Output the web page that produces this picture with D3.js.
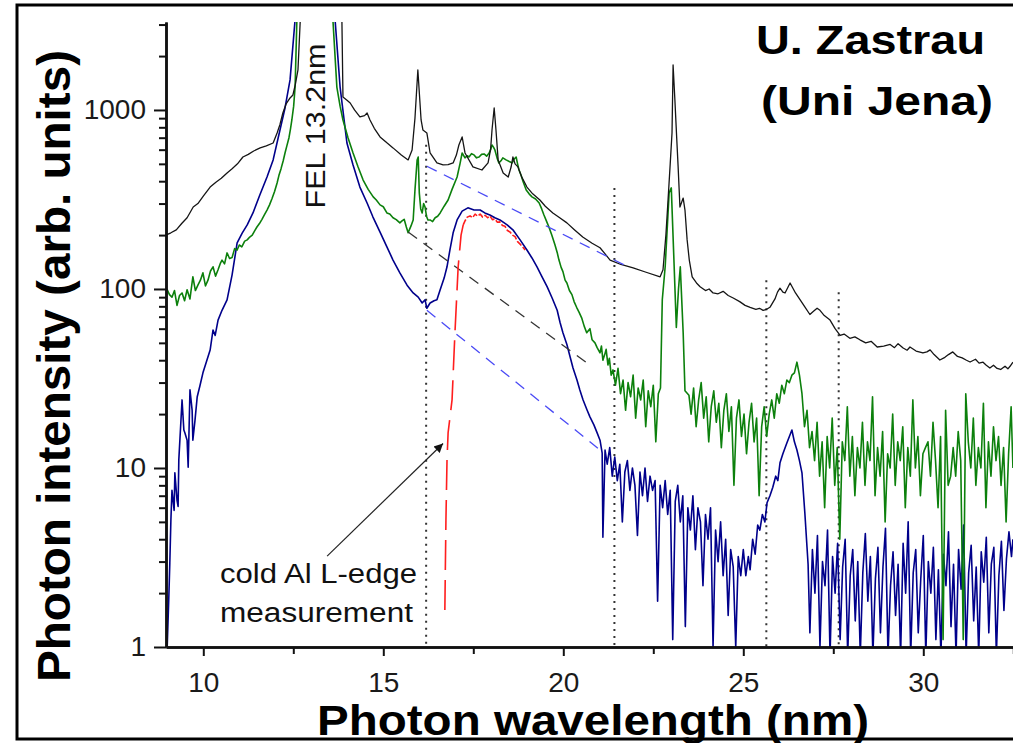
<!DOCTYPE html>
<html>
<head>
<meta charset="utf-8">
<script src="https://cdn.jsdelivr.net/npm/d3@7"></script>
<style>
  body { margin: 0; background: #fff; }
  text { font-family: "Liberation Sans", Arial, sans-serif; }
</style>
</head>
<body>
<div id="chart"></div>
<script>
// spectra: [wavelength nm, intensity arb. units]
const blackSpectrum = [
  [8.96,200],[9.1,206],[9.25,214],[9.4,232],[9.55,250],[9.72,287],[9.85,300],[10.0,330],[10.19,371],[10.35,395],
  [10.5,415],[10.66,445],[10.8,470],[10.95,500],[11.1,546],[11.25,565],[11.4,590],[11.58,614],[11.75,630],[11.94,654],
  [12.05,744],[12.13,830],[12.21,962],[12.3,1080],[12.41,1167],[12.49,1213],[12.56,1400],[12.63,1673],[12.69,3062],
  [12.8,8000],[13.2,80000],[13.6,8000],[13.85,3200],[13.88,1182],[14.0,1130],[14.08,1094],[14.2,1000],[14.35,914],
  [14.48,930],[14.55,962],[14.63,879],[14.75,790],[14.91,707],[15.1,655],[15.27,614],[15.5,560],[15.69,526],[15.8,598],
  [15.88,900],[15.96,1673],[16.05,879],[16.10,773],[16.21,744],[16.30,575],[16.49,506],[16.66,493],[16.8,495],[16.94,506],
  [17.03,560],[17.10,637],[17.19,707],[17.27,575],[17.49,481],[17.74,462],[17.91,506],[17.98,600],[18.02,773],[18.08,1026],
  [18.13,773],[18.19,526],[18.33,445],[18.47,422],[18.55,480],[18.60,546],[18.66,500],[18.74,481],[18.85,420],[18.99,371],
  [19.15,340],[19.35,314],[19.5,290],[19.71,266],[19.9,250],[20.10,234],[20.3,215],[20.54,195],[20.8,180],[21.02,170],
  [21.15,158],[21.30,145],[21.6,137],[21.94,131],[22.3,124],[22.69,117],[22.77,128],[22.85,200],[22.91,314],[22.97,500],
  [23.02,744],[23.05,1784],[23.10,1137],[23.15,700],[23.19,481],[23.24,287],[23.33,322],[23.38,276],[23.44,188],[23.5,145],
  [23.58,117],[23.7,108],[23.80,103],[23.95,98],[24.05,100],[24.16,95],[24.3,94],[24.44,97],[24.58,92],[24.72,89],
  [24.9,85],[25.05,81],[25.19,79],[25.35,77],[25.45,78],[25.55,76],[25.65,77],[25.74,79],[25.88,88],[25.95,96],
  [26.02,101],[26.1,96],[26.16,95],[26.30,108],[26.45,95],[26.58,87],[26.7,80],[26.85,72],[26.95,75],[27.05,78],
  [27.13,76],[27.25,71],[27.41,67],[27.55,60],[27.69,55],[27.8,56],[27.96,53],[28.1,54],[28.24,52],[28.4,50],
  [28.55,51],[28.72,47.4],[28.9,48],[29.08,49],[29.2,47],[29.3,49.5],[29.44,46.8],[29.55,45.5],[29.63,47.4],[29.8,45],
  [29.99,43.9],[30.1,44.5],[30.19,45.7],[30.3,43],[30.46,40.1],[30.6,41.5],[30.7,43],[30.82,44.5],[30.95,42],[31.08,41.2],
  [31.2,40],[31.30,39.1],[31.45,40.5],[31.55,38.5],[31.66,39],[31.75,37.5],[31.85,36.2],[31.95,37.5],[32.05,36],[32.15,35.5],
  [32.27,37],[32.35,35.8],[32.41,37],[32.49,39]
];

const greenSpectrum = [
  [8.99,100],[9.06,93],[9.13,90],[9.2,98],[9.27,81],[9.34,92],[9.41,95],[9.48,86],[9.55,99],[9.63,88],
  [9.71,117],[9.78,98],[9.85,105],[9.92,112],[9.99,123],[10.06,104],[10.13,112],[10.2,126],[10.27,133],[10.34,118],
  [10.41,128],[10.48,140],[10.52,145],[10.59,138],[10.66,159],[10.73,148],[10.80,150],[10.87,168],[10.94,165],[11.0,176],
  [11.07,172],[11.15,185],[11.22,188],[11.29,195],[11.36,200],[11.43,212],[11.49,222],[11.56,232],[11.63,245],[11.70,260],
  [11.77,276],[11.84,295],[11.91,320],[11.98,350],[12.05,391],[12.1,430],[12.16,470],[12.22,520],[12.27,575],[12.33,640],
  [12.38,700],[12.42,780],[12.46,879],[12.51,1050],[12.55,1343],[12.60,3200],[12.8,8000],[13.2,80000],[13.5,8000],[13.60,3200],
  [13.71,1343],[13.80,1050],[13.88,879],[14.02,700],[14.16,575],[14.30,480],[14.44,406],[14.58,360],[14.72,327],[14.80,315],
  [14.91,295],[15.0,288],[15.10,266],[15.18,262],[15.27,250],[15.36,244],[15.46,234],[15.52,240],[15.58,245],[15.64,222],
  [15.69,206],[15.77,225],[15.83,243],[15.88,357],[15.94,526],[15.97,546],[16.00,344],[16.04,280],[16.08,266],[16.12,300],
  [16.16,287],[16.20,255],[16.24,243],[16.30,243],[16.37,238],[16.44,250],[16.51,255],[16.58,266],[16.69,290],[16.80,314],
  [16.91,360],[17.05,422],[17.13,500],[17.19,575],[17.27,540],[17.33,555],[17.38,546],[17.45,570],[17.52,561],[17.59,540],
  [17.66,546],[17.73,565],[17.80,568],[17.87,552],[17.94,575],[17.98,600],[18.02,637],[18.06,620],[18.10,598],[18.16,540],
  [18.21,506],[18.27,520],[18.32,540],[18.41,526],[18.50,515],[18.58,506],[18.63,530],[18.69,546],[18.73,500],[18.77,462],
  [18.83,430],[18.88,400],[18.97,357],[19.05,340],[19.13,327],[19.23,318],[19.33,302],[19.40,280],[19.46,260],[19.53,240],
  [19.60,222],[19.68,200],[19.77,176],[19.83,160],[19.88,145],[19.94,132],[19.99,125],[20.05,112],[20.10,108],[20.17,98],
  [20.24,93],[20.30,85],[20.37,79],[20.44,74],[20.51,69],[20.58,62],[20.65,57],[20.74,60],[20.80,52],[20.88,50],
  [20.94,47],[21.02,44],[21.06,48],[21.10,40],[21.15,43],[21.19,46],[21.24,37.6],[21.28,41],[21.33,33],[21.38,35.3],
  [21.45,29],[21.52,36],[21.59,26],[21.66,31],[21.73,21],[21.80,30],[21.87,25],[21.94,33],[22.01,19],[22.08,28],
  [22.15,24],[22.22,31],[22.29,17],[22.36,27],[22.43,22],[22.50,29],[22.57,14],[22.64,26],[22.70,28],
  [22.75,87],[22.83,133],[22.94,344],[23.00,367],[23.08,133],[23.14,61],[23.20,100],[23.25,133],[23.33,57],[23.38,27],[23.49,25.5],
  [23.55,20],[23.62,28],[23.69,17],[23.76,24],[23.83,30],[23.90,19],[23.97,25],[24.04,14],[24.11,22],[24.18,27],
  [24.25,18],[24.32,23],[24.39,13],[24.46,21],[24.53,26],[24.60,16],[24.67,22],[24.74,8],[24.81,19],[24.88,24],
  [24.95,15],[25.02,20],[25.09,12],[25.16,18],[25.23,23],[25.30,14],[25.37,19],[25.44,7],[25.51,17],[25.58,22],
  [25.65,15],[25.72,20],[25.79,24],[25.86,19],[25.93,26],[26.00,23],[26.07,29],[26.14,26],[26.21,31],[26.28,30],
  [26.35,33],[26.42,34],[26.49,39],[26.56,33],[26.63,26],[26.70,17],[26.77,21],[26.84,13],[26.91,16],
  [26.98,11],[27.05,18],[27.12,9],[27.19,14],[27.26,6],[27.33,15],[27.40,10],[27.47,19],[27.54,8],[27.61,13],
  [27.68,4],[27.75,14],[27.82,11],[27.89,22],[27.96,9],[28.03,15],[28.10,7],[28.17,13],[28.24,10],[28.31,18],
  [28.38,8],[28.45,14],[28.52,11],[28.59,25],[28.66,7],[28.73,13],[28.80,9],[28.87,16],[28.94,5],[29.01,12],
  [29.08,10],[29.15,20],[29.22,8],[29.29,14],[29.36,11],[29.43,17],[29.50,6],[29.57,13],[29.64,9],[29.71,24],
  [29.78,10],[29.85,15],[29.92,7],[29.99,12],[30.06,13],[30.13,14],[30.20,9],[30.27,18],[30.34,11],[30.41,6],
  [30.48,15],[30.55,1.1],[30.62,21],[30.69,8],[30.76,9],[30.83,13],[30.90,9],[30.97,16],[31.04,11],[31.11,1.1],
  [31.18,26],[31.25,14],[31.32,10],[31.39,19],[31.46,8],[31.53,13],[31.60,10],[31.67,23],[31.74,6],[31.81,14],
  [31.88,9],[31.95,17],[32.02,11],[32.09,15],[32.16,8],[32.23,13],[32.30,5],[32.37,12],[32.44,22],[32.49,10]
];

const blueSpectrum = [
  [8.99,0.9],[9.04,1.83],[9.07,2.95],[9.10,5.12],[9.13,7.5],[9.19,5.8],[9.21,9.4],[9.27,6.6],[9.30,6.1],[9.32,11.1],
  [9.41,24],[9.46,16.3],[9.49,15.7],[9.55,14.3],[9.58,10.1],[9.63,27.3],[9.69,21],[9.71,14.3],[9.77,18.5],[9.83,24.9],
  [9.91,29],[9.99,34],[10.10,40],[10.19,45.6],[10.27,59],[10.33,55],[10.41,67],[10.52,76],[10.66,87],[10.80,120],
  [10.94,181],[11.08,205],[11.22,228],[11.38,266],[11.57,335],[11.77,422],[11.94,526],[12.13,773],[12.27,1026],[12.41,1472],
  [12.55,3200],[12.8,8000],[13.2,80000],[13.6,8000],[13.66,3200],[13.80,1343],[13.99,654],[14.16,493],[14.35,371],[14.55,302],
  [14.71,253],[14.91,208],[15.10,172],[15.27,145],[15.46,123],[15.66,105],[15.83,95],[15.97,90],[16.08,83.5],[16.16,87],
  [16.21,78],[16.30,83.5],[16.41,86],[16.49,87],[16.58,99],[16.69,115],[16.77,133],[16.85,165],[16.94,206],[17.05,243],
  [17.19,272],[17.35,284],[17.52,276],[17.69,276],[17.82,266],[17.96,259],[18.10,250],[18.24,243],[18.44,228],[18.60,214],
  [18.80,188],[18.99,165],[19.13,149],[19.27,133],[19.41,117],[19.55,103],[19.69,89],[19.83,76],[19.91,65],[19.99,57],
  [20.10,49],[20.19,41.7],[20.27,36.2],[20.38,31],[20.46,27.3],[20.55,24],[20.66,21.1],[20.74,19.3],[20.85,17.4],[20.94,15.7],
  [21.02,14.3],[21.08,12.1],[21.10,4.1],[21.16,12.6],
  [21.22,10.5],[21.29,13],[21.36,9],[21.43,11.5],[21.50,8.5],[21.57,10.5],[21.64,5],[21.71,9.5],[21.78,11],[21.85,7.5],
  [21.92,10],[21.99,8],[22.06,4.2],[22.13,9.5],[22.20,7],[22.27,10],[22.34,6.5],[22.41,9],[22.48,7.5],[22.55,8.5],
  [22.62,1.8],[22.69,8],[22.76,6],[22.83,8.5],[22.90,5.5],[22.97,7.5],[23.04,1.1],[23.11,6.5],[23.18,8],[23.25,5],
  [23.32,7],[23.39,1.3],[23.46,6],[23.53,4.5],[23.60,7],[23.67,3.5],[23.74,6],[23.81,5],[23.88,2.2],[23.95,5.5],
  [24.02,4],[24.09,6],[24.16,1],[24.23,4.5],[24.30,3],[24.37,5],[24.44,2.5],[24.51,4],[24.58,1.5],[24.65,3.5],
  [24.72,2.8],[24.79,1],[24.86,3.2],[24.93,2.5],[25.00,3.5],[25.07,2.5],[25.14,3.2],[25.19,2.7],[25.26,4],[25.33,3.3],
  [25.40,4.8],[25.46,4.5],[25.53,5.5],[25.60,5],[25.66,6.4],[25.74,7],[25.82,7.8],[25.90,9],[25.96,8.5],[26.02,10.7],
  [26.10,12],[26.21,13.8],[26.28,15],[26.35,16.3],[26.42,14],[26.49,12.6],[26.56,11],[26.63,9.4],[26.71,5.6],[26.80,2.9],
  [26.85,1.2],[26.92,3.5],[26.99,2],[27.06,4.2],[27.13,1],[27.20,3],[27.27,2.2],[27.34,4.5],[27.41,0.9],[27.48,3.2],
  [27.55,2],[27.62,3.8],[27.69,1.1],[27.76,2.8],[27.83,4],[27.90,0.9],[27.97,2.5],[28.04,3.5],[28.11,1.4],[28.18,3],
  [28.25,0.9],[28.32,2.6],[28.39,4.3],[28.46,1.8],[28.53,3.2],[28.60,0.9],[28.67,2.4],[28.74,3.6],[28.81,1.2],[28.88,2.8],
  [28.95,4.6],[29.02,0.9],[29.09,2.2],[29.16,3.4],[29.23,1.5],[29.30,2.9],[29.37,0.9],[29.44,3.8],[29.51,2],[29.58,5],
  [29.65,0.9],[29.72,2.6],[29.79,3.5],[29.86,1.2],[29.93,2.4],[30.00,4.2],[30.07,0.9],[30.14,3],[30.21,2],[30.28,3.6],
  [30.35,1.1],[30.42,2.7],[30.49,0.9],[30.56,3.3],[30.63,2.2],[30.70,4.4],[30.77,1.3],[30.84,2.9],[30.91,0.9],[30.98,3.5],
  [31.05,2.1],[31.12,4.8],[31.19,0.9],[31.26,2.6],[31.33,3.7],[31.40,1.4],[31.47,2.8],[31.54,0.9],[31.61,3.4],[31.68,2.3],
  [31.75,4.1],[31.82,1.2],[31.89,2.9],[31.96,3.6],[32.03,0.9],[32.10,2.5],[32.17,3.9],[32.24,1.6],[32.31,3.1],[32.38,4.4],
  [32.45,3.2],[32.49,4]
];

// cold Al L-edge measurement (red)
const redRise = [[16.71,1.61],[16.74,5.1],[16.77,11.1],[16.80,15.7],[16.91,24],[16.99,56.8],[17.08,133],[17.16,200],[17.22,228]];
const redTop = [
  [17.22,228],[17.27,240],[17.33,252],[17.41,256],[17.48,250],[17.55,262],[17.62,255],[17.69,262],[17.76,252],[17.83,258],
  [17.90,250],[17.96,256],[18.03,244],[18.10,246],[18.17,236],[18.24,237],[18.31,226],[18.38,224],[18.45,212],[18.52,208],
  [18.59,200],[18.66,196],[18.73,184],[18.80,178],[18.87,172],[18.94,165]
];

// dashed background guides
const upperBlueGuide = [[16.21,485],[21.86,131]];
const blackGuide = [[15.69,208],[20.74,37.6]];
const lowerBlueGuide = [[16.21,76],[20.96,12.9]];

// dotted vertical markers
const markerX = [16.19, 21.42, 25.64, 27.65];
const markerTop = [640, 367, 112, 96];

const annotationArrow = [[13.44,3.22],[16.66,13.7]];

const xMajorTicks = [10, 15, 20, 25, 30];
const xMinorTicks = [12.5, 17.5, 22.5, 27.5, 32.5];
const yMajorTicks = [1, 10, 100, 1000];
const yMinorTicks = [2,3,4,5,6,7,8,9,20,30,40,50,60,70,80,90,200,300,400,500,600,700,800,900,2000,3000];

const width = 1013,
    height = 743,
    plotLeft = 166,
    plotRight = 1013,
    plotTop = 22,
    plotBottom = 647;

const svg = d3.select('#chart').append('svg')
    .attr('width', width)
    .attr('height', height)
    .style('display', 'block');

svg.append('rect').attr('width', width).attr('height', height).attr('fill', '#fff');

const x = d3.scaleLinear().domain([8.964, 32.492]).range([plotLeft, plotRight]);
const y = d3.scaleLog().domain([1, 3100]).range([plotBottom, plotTop]);

svg.append('defs').append('clipPath')
    .attr('id', 'plot-clip')
    .append('rect')
    .attr('x', plotLeft)
    .attr('y', plotTop)
    .attr('width', plotRight - plotLeft)
    .attr('height', plotBottom - plotTop);

svg.select('defs').append('marker')
    .attr('id', 'arrow-head')
    .attr('viewBox', '0 0 10 10')
    .attr('refX', 10)
    .attr('refY', 5)
    .attr('markerWidth', 11)
    .attr('markerHeight', 9)
    .attr('markerUnits', 'userSpaceOnUse')
    .attr('orient', 'auto')
    .append('path')
    .attr('d', 'M0,0 L10,5 L0,10 Z')
    .attr('fill', '#111');

const plot = svg.append('g').attr('clip-path', 'url(#plot-clip)');

const line = d3.line()
    .x(d => x(d[0]))
    .y(d => y(Math.max(d[1], 0.5)));

function drawLine(data, color, w, dash) {
    const p = plot.append('path')
        .datum(data)
        .attr('d', line)
        .attr('fill', 'none')
        .attr('stroke', color)
        .attr('stroke-width', w)
        .attr('stroke-linejoin', 'round');
    if (dash) p.attr('stroke-dasharray', dash);
    return p;
}

// dotted markers
markerX.forEach((mx, i) => {
    plot.append('line')
        .attr('x1', x(mx)).attr('x2', x(mx))
        .attr('y1', y(markerTop[i])).attr('y2', y(1))
        .attr('stroke', '#333')
        .attr('stroke-width', 2)
        .attr('stroke-dasharray', '2,5');
});

drawLine(blueSpectrum, '#00008b', 1.6);
drawLine(greenSpectrum, '#0c800c', 1.6);
drawLine(blackSpectrum, '#151515', 1.3);

drawLine(upperBlueGuide, '#4a4af5', 1.3, '11,8');
drawLine(blackGuide, '#333', 1.3, '11,8');
drawLine(lowerBlueGuide, '#4a4af5', 1.3, '11,8');

drawLine(redRise, '#ff1e1e', 1.6, '30,10');
drawLine(redTop, '#ff1e1e', 1.6, '6,2');

// arrow to the edge
svg.append('line')
    .attr('x1', x(annotationArrow[0][0])).attr('y1', y(annotationArrow[0][1]))
    .attr('x2', x(annotationArrow[1][0])).attr('y2', y(annotationArrow[1][1]))
    .attr('stroke', '#222')
    .attr('stroke-width', 1.2)
    .attr('marker-end', 'url(#arrow-head)');

// axes
function styleAxis(g) {
    g.select('.domain').attr('stroke', '#111').attr('stroke-width', 2.5);
    g.selectAll('.tick line').attr('stroke', '#111').attr('stroke-width', 2);
    g.selectAll('.tick text')
        .attr('fill', '#1a1a1a')
        .style('font-size', '28px')
        .style('font-family', '"Liberation Sans", Arial, sans-serif');
}

svg.append('g')
    .attr('transform', `translate(${plotLeft},0)`)
    .call(d3.axisLeft(y).tickValues(yMinorTicks).tickSize(7).tickSizeOuter(0).tickFormat(''))
    .call(styleAxis);

svg.append('g')
    .attr('transform', `translate(${plotLeft},0)`)
    .call(d3.axisLeft(y).tickValues(yMajorTicks).tickSize(12).tickSizeOuter(0).tickPadding(8).tickFormat(d3.format('d')))
    .call(styleAxis);

svg.append('g')
    .attr('transform', `translate(0,${plotBottom})`)
    .call(d3.axisBottom(x).tickValues(xMinorTicks).tickSize(7).tickSizeOuter(0).tickFormat(''))
    .call(styleAxis);

svg.append('g')
    .attr('transform', `translate(0,${plotBottom})`)
    .call(d3.axisBottom(x).tickValues(xMajorTicks).tickSize(9).tickSizeOuter(0).tickPadding(16).tickFormat(d3.format('d')))
    .call(styleAxis);

// titles and labels
svg.append('text')
    .attr('transform', 'translate(70,366) rotate(-90)')
    .attr('text-anchor', 'middle')
    .attr('textLength', 632)
    .attr('lengthAdjust', 'spacingAndGlyphs')
    .style('font-size', '46px')
    .style('font-weight', 'bold')
    .attr('fill', '#000')
    .text('Photon intensity (arb. units)');

svg.append('text')
    .attr('x', 593)
    .attr('y', 735)
    .attr('text-anchor', 'middle')
    .attr('textLength', 552)
    .attr('lengthAdjust', 'spacingAndGlyphs')
    .style('font-size', '42px')
    .style('font-weight', 'bold')
    .attr('fill', '#000')
    .text('Photon wavelength (nm)');

svg.append('text')
    .attr('x', 985)
    .attr('y', 54)
    .attr('text-anchor', 'end')
    .attr('textLength', 229)
    .attr('lengthAdjust', 'spacingAndGlyphs')
    .style('font-size', '40px')
    .style('font-weight', 'bold')
    .text('U. Zastrau');

svg.append('text')
    .attr('x', 993)
    .attr('y', 115)
    .attr('text-anchor', 'end')
    .attr('textLength', 232)
    .attr('lengthAdjust', 'spacingAndGlyphs')
    .style('font-size', '40px')
    .style('font-weight', 'bold')
    .text('(Uni Jena)');

svg.append('text')
    .attr('transform', 'translate(325,126) rotate(-90)')
    .attr('text-anchor', 'middle')
    .attr('textLength', 165)
    .attr('lengthAdjust', 'spacingAndGlyphs')
    .style('font-size', '28px')
    .attr('fill', '#111')
    .text('FEL 13.2nm');

svg.append('text')
    .attr('x', 220)
    .attr('y', 583)
    .attr('textLength', 197)
    .attr('lengthAdjust', 'spacingAndGlyphs')
    .style('font-size', '27px')
    .attr('fill', '#111')
    .text('cold Al L-edge');

svg.append('text')
    .attr('x', 220)
    .attr('y', 622)
    .attr('textLength', 193)
    .attr('lengthAdjust', 'spacingAndGlyphs')
    .style('font-size', '27px')
    .attr('fill', '#111')
    .text('measurement');

// outer frame
svg.append('rect')
    .attr('x', 17)
    .attr('y', 5)
    .attr('width', 1010)
    .attr('height', 734)
    .attr('fill', 'none')
    .attr('stroke', '#000')
    .attr('stroke-width', 3);
</script>
</body>
</html>
